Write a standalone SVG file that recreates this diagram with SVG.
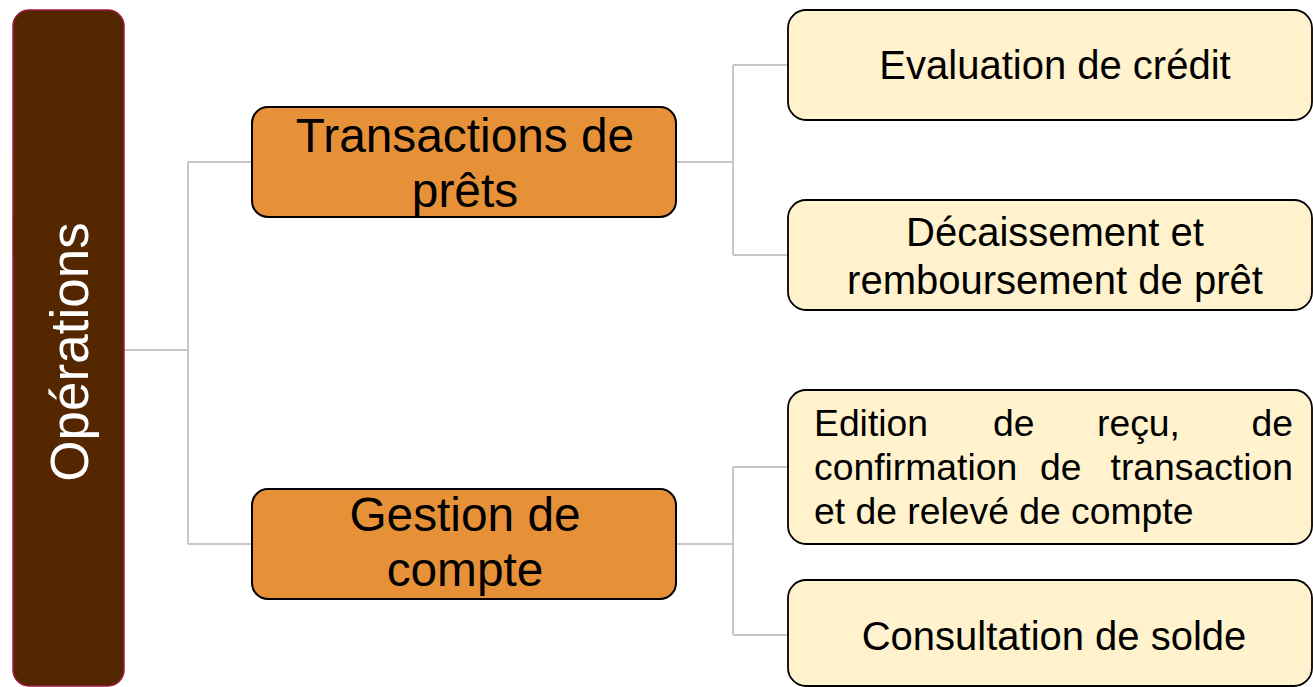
<svg xmlns="http://www.w3.org/2000/svg" width="1313" height="687" viewBox="0 0 1313 687">
<style>
.root{fill:#552700;stroke:#9B1B45;stroke-width:1.5}
.mid{fill:#E69138;stroke:#000;stroke-width:2}
.leaf{fill:#FFF2CC;stroke:#000;stroke-width:1.8}
.conn{fill:none;stroke:#C8C8C8;stroke-width:2}
text{font-family:"Liberation Sans",Arial,sans-serif;fill:#000}
.tm{font-size:47.8px;text-anchor:middle}
.tl{font-size:40px;text-anchor:middle}
.tj{font-size:37.3px}
.te{text-anchor:end}
</style>
<rect width="1313" height="687" fill="#fff"/>
<g id="connectors">
<path class="conn" d="M124,350 H188 M188,162 V544 M188,162 H252 M188,544 H252"/>
<path class="conn" d="M676,162 H733 M733,65 V255 M733,65 H788 M733,255 H788"/>
<path class="conn" d="M676,544 H733 M733,467 V635 M733,467 H788 M733,635 H788"/>
</g>
<g id="root">
<rect class="root" x="13" y="10" width="111" height="676" rx="16"/>
<text transform="translate(88,352) rotate(-90)" style="font-size:53px;fill:#fff;text-anchor:middle">Opérations</text>
</g>
<g id="transactions">
<rect class="mid" x="252" y="107" width="424" height="110" rx="16"/>
<text class="tm" x="465" y="152">Transactions de</text>
<text class="tm" x="465" y="207">prêts</text>
</g>
<g id="gestion">
<rect class="mid" x="252" y="489" width="424" height="110" rx="16"/>
<text class="tm" x="465" y="531">Gestion de</text>
<text class="tm" x="465" y="586">compte</text>
</g>
<g id="evaluation">
<rect class="leaf" x="788" y="10" width="524" height="110" rx="18"/>
<text class="tl" x="1055" y="79">Evaluation de crédit</text>
</g>
<g id="decaissement">
<rect class="leaf" x="788" y="200" width="524" height="110" rx="18"/>
<text class="tl" x="1055" y="246">Décaissement et</text>
<text class="tl" x="1055" y="294">remboursement de prêt</text>
</g>
<g id="edition">
<rect class="leaf" x="788" y="390" width="524" height="154" rx="18"/>
<text class="tj" x="814" y="436">Edition</text>
<text class="tj" x="993" y="436">de</text>
<text class="tj" x="1097" y="436">reçu,</text>
<text class="tj te" x="1293" y="436">de</text>
<text class="tj" x="814" y="480">confirmation</text>
<text class="tj" x="1040" y="480">de</text>
<text class="tj te" x="1293" y="480">transaction</text>
<text class="tj" x="814" y="524">et de relevé de compte</text>
</g>
<g id="consultation">
<rect class="leaf" x="788" y="580" width="524" height="106" rx="18"/>
<text class="tl" x="1054" y="650">Consultation de solde</text>
</g>
</svg>
